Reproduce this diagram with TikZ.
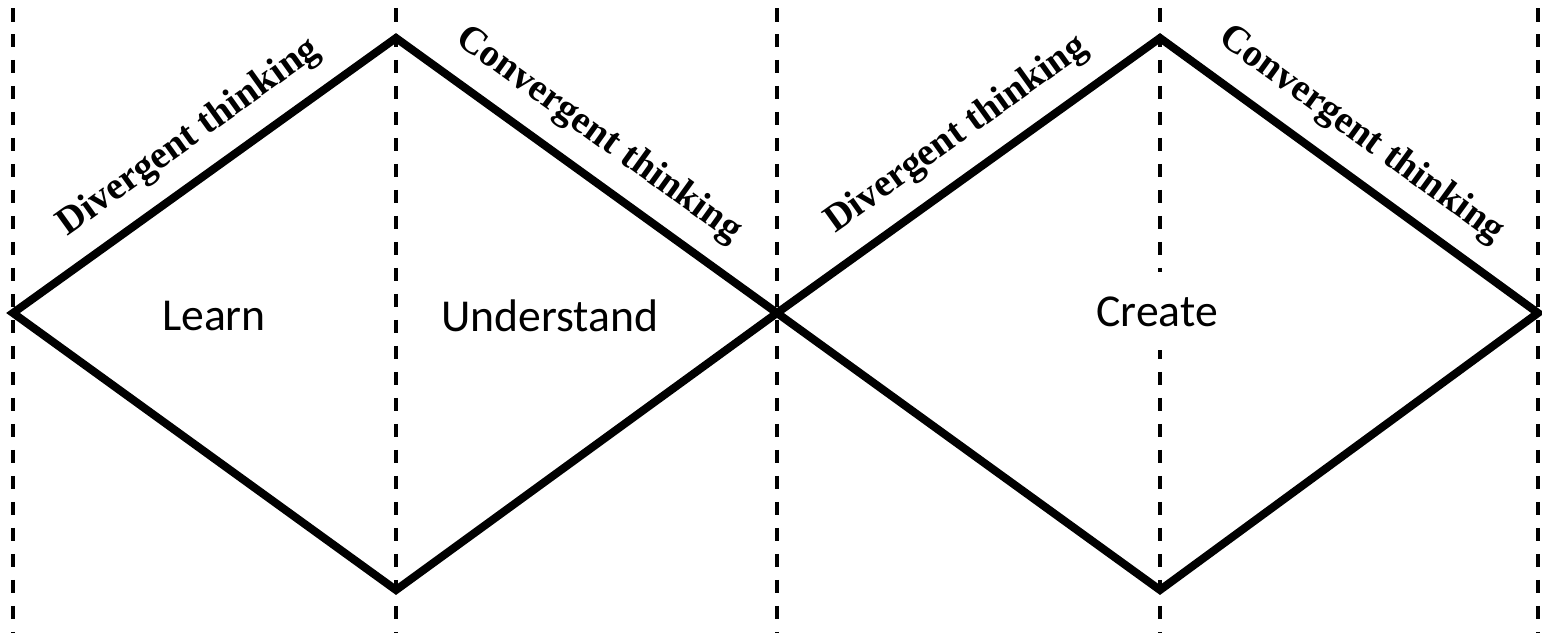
\documentclass[tikz,border=0pt]{standalone}
\usepackage{fontspec}
\newfontfamily\phasefont{Carlito}
\newfontfamily\modefont{Liberation Serif}
\usetikzlibrary{positioning,calc}

\begin{document}
\begin{tikzpicture}[x=0.02cm, y=-0.02cm, every node/.style={align=center}]
\tikzset{
  guide/.style={draw, line width=0.09cm, dash pattern=on 0.27cm off 0.25cm},
  edge/.style={draw, line width=0.16cm, line join=miter},
  modelbl/.style={sloped, above=0.36cm, font=\modefont\bfseries\fontsize{22}{25}\selectfont, inner sep=0pt},
  phaselbl/.style={font=\phasefont\fontsize{26}{30}\selectfont, inner sep=0pt}
}
  \useasboundingbox (0,0) rectangle (1542,633);
  % guide lines
  \foreach \gx [count=\gi] in {13,396,777,1160,1538} {
    \coordinate (gtop\gi) at (\gx,8);
    \coordinate (gbot\gi) at (\gx,633);
    \draw[guide] (gtop\gi) -- (gbot\gi);
  }
  % diamond corners
  \coordinate (l1) at (13,313);
  \coordinate (t1) at (396,38);
  \coordinate (m)  at (777,313);
  \coordinate (b1) at (396,590);
  \coordinate (t2) at (1160,38);
  \coordinate (r2) at (1538,313);
  \coordinate (b2) at (1160,590);

  \draw[edge] (l1) -- node[modelbl, pos=0.52] {Divergent thinking} (t1)
                   -- node[modelbl, pos=0.47] {Convergent thinking} (m)
                   -- (b1) -- cycle;
  \draw[edge] (m) -- node[modelbl, pos=0.53] {Divergent thinking} (t2)
                  -- node[modelbl, pos=0.47] {Convergent thinking} (r2)
                  -- (b2) -- cycle;

  \node[phaselbl] (learn) at (214,316) {Learn};
  \node[phaselbl] (understand) at (550,316) {Understand};
  \fill[white] (1140,272) rectangle (1180,350);
  \node[phaselbl] (create) at (1157,312) {Create};
\end{tikzpicture}
\end{document}
